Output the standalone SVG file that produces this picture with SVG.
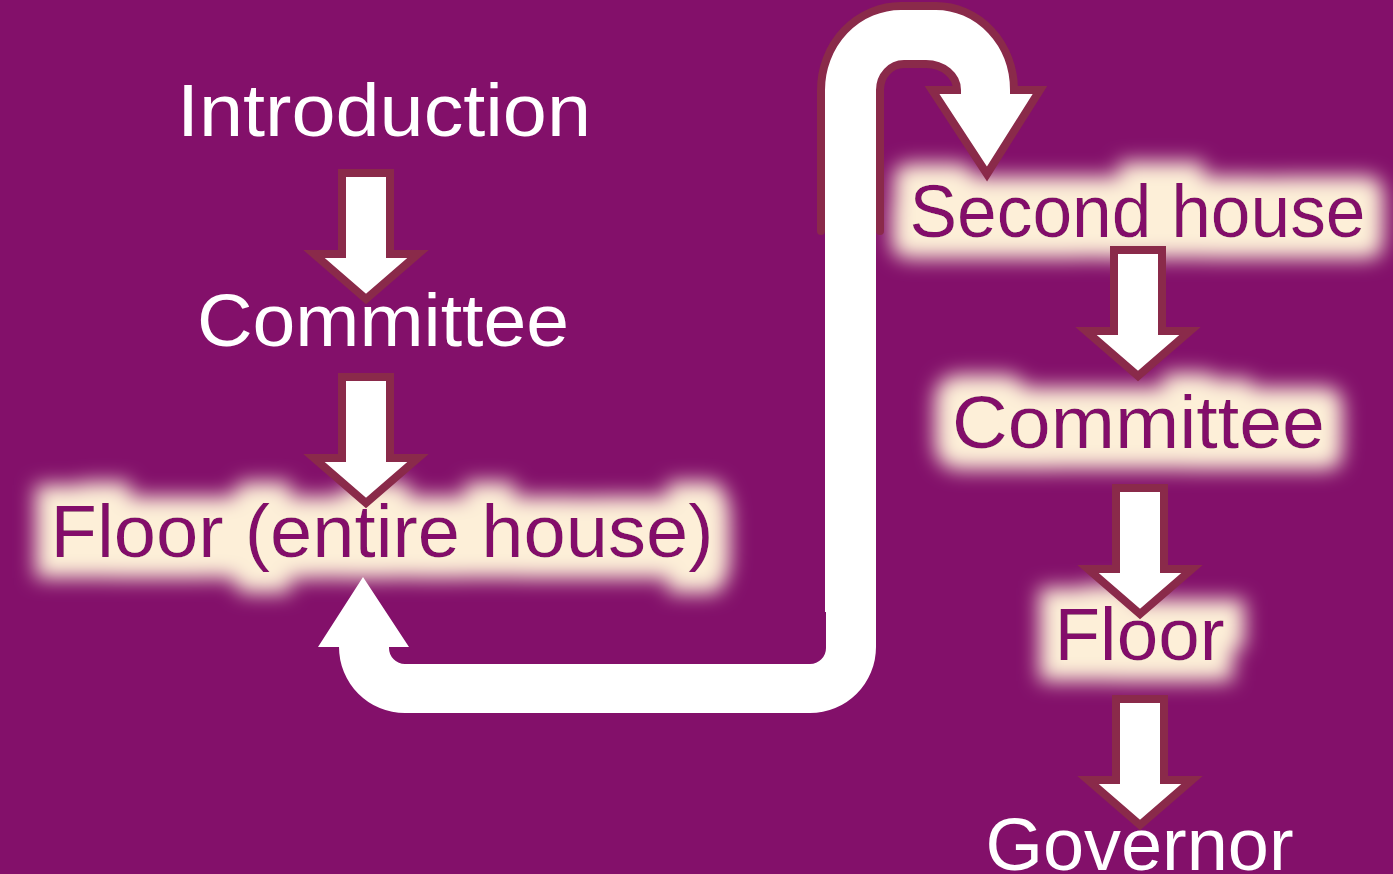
<svg xmlns="http://www.w3.org/2000/svg" xmlns:xlink="http://www.w3.org/1999/xlink" width="1393" height="874" viewBox="0 0 1393 874">
<style>
.t{font-family:"Liberation Sans",Arial,sans-serif;font-size:75px;text-anchor:middle}
.w{fill:#FFFFFF}
.p{fill:#83106A;filter:url(#glow)}
.arr{fill:#FFFFFF;stroke:#8A2A4A;stroke-width:8;stroke-linejoin:miter;stroke-miterlimit:10}
.ol{fill:none;stroke:#8A2A4A;stroke-width:8;stroke-linejoin:miter;stroke-linecap:round}
.wf{fill:#FFFFFF;stroke:none}
</style>
<defs>
<filter id="glow" filterUnits="userSpaceOnUse" x="0" y="0" width="1393" height="874">
<feMorphology in="SourceAlpha" operator="dilate" radius="21" result="d"/>
<feFlood flood-color="#FDEFD8"/>
<feComposite in2="d" operator="in"/>
<feGaussianBlur stdDeviation="10"/>
<feMerge><feMergeNode/><feMergeNode in="SourceGraphic"/></feMerge>
</filter>
<path id="arrow" class="arr" d="M -24,4 H 24 V 85 H 52 L 0,130 L -52,85 H -24 Z"/>
</defs>
<rect width="1393" height="874" fill="#83106A"/>
<g id="n-introduction"><text class="t w" x="384" y="136" textLength="414" lengthAdjust="spacingAndGlyphs">Introduction</text></g>
<g id="n-committee1"><text class="t w" x="383" y="346" textLength="372" lengthAdjust="spacingAndGlyphs">Committee</text></g>
<g id="n-floor1"><text class="t p" x="382" y="557" textLength="663" lengthAdjust="spacingAndGlyphs">Floor (entire house)</text></g>
<g id="n-second"><text class="t p" x="1137.5" y="237" textLength="456" lengthAdjust="spacingAndGlyphs">Second house</text></g>
<g id="n-committee2"><text class="t p" x="1138.5" y="448" textLength="373" lengthAdjust="spacingAndGlyphs">Committee</text></g>
<g id="n-floor2"><text class="t p" x="1139.5" y="660" textLength="170" lengthAdjust="spacingAndGlyphs">Floor</text></g>
<g id="n-governor"><text class="t w" x="1139.5" y="870" textLength="308" lengthAdjust="spacingAndGlyphs">Governor</text></g>
<g id="connectors">
<use xlink:href="#arrow" href="#arrow" transform="translate(366,169)"/>
<use xlink:href="#arrow" href="#arrow" transform="translate(366,373)"/>
<use xlink:href="#arrow" href="#arrow" transform="translate(1138,246)"/>
<use xlink:href="#arrow" href="#arrow" transform="translate(1140,484)"/>
<use xlink:href="#arrow" href="#arrow" transform="translate(1140,695)"/>
<path class="wf" d="M 825,225 H 876 V 612 H 825 Z"/>
<path class="wf" d="M 826,608 V 648 A 16 16 0 0 1 810,664 H 405 A 16 16 0 0 1 389,648 V 647 H 409 L 363,577 L 318,647 H 339 A 66 66 0 0 0 405,713 H 810 A 66 66 0 0 0 876,647 V 608 Z"/>
<path class="wf" d="M 821,231 V 90 A 80 84 0 0 1 901,6 H 936 A 78 84 0 0 1 1014,90 H 1040 L 987,174 L 932,90 H 957 A 31 26 0 0 0 926,64 H 904 A 24 26 0 0 0 880,90 V 231 Z"/>
<path class="ol" d="M 821,231 V 90 A 80 84 0 0 1 901,6 H 936 A 78 84 0 0 1 1014,90 H 1040 L 987,174 L 932,90 H 957 A 31 26 0 0 0 926,64 H 904 A 24 26 0 0 0 880,90 V 231"/>
</g>
</svg>
